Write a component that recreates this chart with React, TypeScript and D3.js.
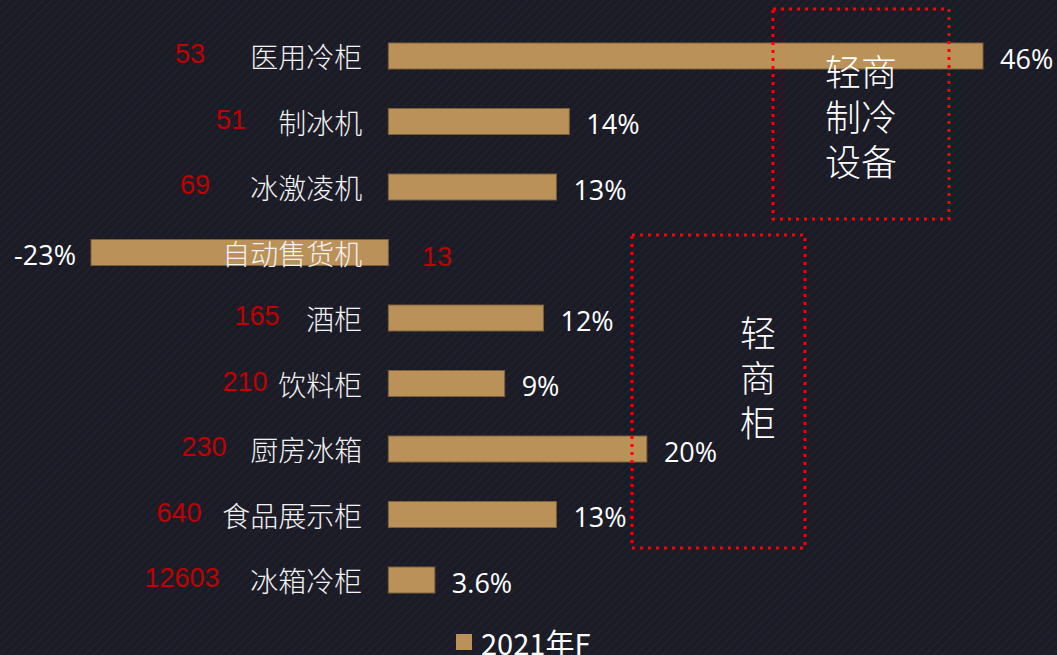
import React, { useRef, useEffect } from "react";
import * as d3 from "d3";

// 品类、2021年F增速(%)、市场规模(红色数字)
const categories = ["医用冷柜", "制冰机", "冰激凌机", "自动售货机", "酒柜", "饮料柜", "厨房冰箱", "食品展示柜", "冰箱冷柜"];
const growth = [46, 14, 13, -23, 12, 9, 20, 13, 3.6];
const sizes = ["53", "51", "69", "13", "165", "210", "230", "640", "12603"];
const legendLabel = "2021年F";
const groupLabels = [["轻商", "制冷", "设备"], ["轻", "商", "柜"]];

// layout only: centre x of the red size numbers
const sizeX = [190, 231, 195, 437, 257, 245, 204, 179, 182];

const W = 1057;
const H = 655;
const CJK = "'Noto Sans CJK SC', 'Noto Sans', sans-serif";

const App = () => {
	const ref = useRef<SVGSVGElement>(null);

	useEffect(() => {
		const svg = d3.select(ref.current);
		svg.selectAll("*").remove();

		// background with faint diagonal stripes
		const defs = svg.append("defs");
		const pat = defs.append("pattern")
			.attr("id", "stripes")
			.attr("width", 6)
			.attr("height", 6)
			.attr("patternUnits", "userSpaceOnUse")
			.attr("patternTransform", "rotate(45)");
		pat.append("rect").attr("width", 6).attr("height", 6).attr("fill", "#1b1b26");
		pat.append("rect").attr("width", 2).attr("height", 6).attr("fill", "#20202c");
		svg.append("rect").attr("width", W).attr("height", H).attr("fill", "url(#stripes)");

		const x = d3.scaleLinear().domain([-23, 46]).range([91, 983]);
		const y = d3.scalePoint<string>().domain(categories).range([23.25, 612.75]).padding(0.5);
		const barH = 26;
		const rows = categories.map((c, i) => ({ c, v: growth[i], s: sizes[i], sx: sizeX[i] }));

		// bars
		svg.append("g")
			.selectAll("rect")
			.data(rows)
			.join("rect")
			.attr("x", d => x(Math.min(0, d.v)))
			.attr("y", d => y(d.c)! - barH / 2)
			.attr("width", d => Math.abs(x(d.v) - x(0)))
			.attr("height", barH)
			.attr("fill", "#b99159")
			.attr("stroke", "#7d6038")
			.attr("stroke-width", 1);

		// category labels
		svg.append("g")
			.selectAll("text")
			.data(rows)
			.join("text")
			.attr("x", x(0) - 26)
			.attr("y", d => y(d.c)!)
			.attr("text-anchor", "end")
			.attr("dominant-baseline", "central")
			.attr("font-family", CJK)
			.attr("font-size", 28)
			.attr("font-weight", 300)
			.attr("fill", "#f2f2f2")
			.text(d => d.c);

		// growth values
		svg.append("g")
			.selectAll("text")
			.data(rows)
			.join("text")
			.attr("x", d => d.v >= 0 ? x(d.v) + 17 : x(d.v) - 15)
			.attr("y", d => y(d.c)! + 2)
			.attr("text-anchor", d => d.v >= 0 ? "start" : "end")
			.attr("dominant-baseline", "central")
			.attr("font-family", "'Open Sans', sans-serif")
			.attr("font-size", 27)
			.attr("fill", "#ffffff")
			.text(d => `${d.v}%`);

		// red size numbers
		svg.append("g")
			.selectAll("text")
			.data(rows)
			.join("text")
			.attr("x", d => d.sx)
			.attr("y", d => y(d.c)! + (d.v < 0 ? 4 : -2))
			.attr("text-anchor", "middle")
			.attr("dominant-baseline", "central")
			.attr("font-family", "'Liberation Sans', Arial, sans-serif")
			.attr("font-size", 27)
			.attr("fill", "#c00000")
			.text(d => d.s);

		// dotted group boxes
		const boxes = [
			{ x0: 773, y0: 9, x1: 949, y1: 219, cx: 861, cy: 115, lines: groupLabels[0] },
			{ x0: 632, y0: 235, x1: 805, y1: 548, cx: 758, cy: 376, lines: groupLabels[1] }
		];
		const bg = svg.append("g");
		boxes.forEach(b => {
			bg.append("rect")
				.attr("x", b.x0)
				.attr("y", b.y0)
				.attr("width", b.x1 - b.x0)
				.attr("height", b.y1 - b.y0)
				.attr("fill", "none")
				.attr("stroke", "#ff0000")
				.attr("stroke-width", 3)
				.attr("stroke-dasharray", "3 5");
			const lh = 45;
			b.lines.forEach((t, i) => {
				bg.append("text")
					.attr("x", b.cx)
					.attr("y", b.cy + (i - (b.lines.length - 1) / 2) * lh)
					.attr("text-anchor", "middle")
					.attr("dominant-baseline", "central")
					.attr("font-family", CJK)
					.attr("font-size", 36)
					.attr("font-weight", 300)
					.attr("fill", "#ffffff")
					.text(t);
			});
		});

		// legend
		const lg = svg.append("g").attr("transform", "translate(456, 642)");
		lg.append("rect").attr("x", 0).attr("y", -8).attr("width", 16).attr("height", 16).attr("fill", "#b99159");
		lg.append("text")
			.attr("x", 25)
			.attr("y", 0)
			.attr("dominant-baseline", "central")
			.attr("font-family", CJK)
			.attr("font-size", 29)
			.attr("fill", "#ffffff")
			.text(legendLabel);
	}, []);

	return (
		<svg
			ref={ref}
			width={W}
			height={H}
			style={{ position: "absolute", left: 0, top: 0, display: "block" }}
		></svg>
	);
};

export default App;
